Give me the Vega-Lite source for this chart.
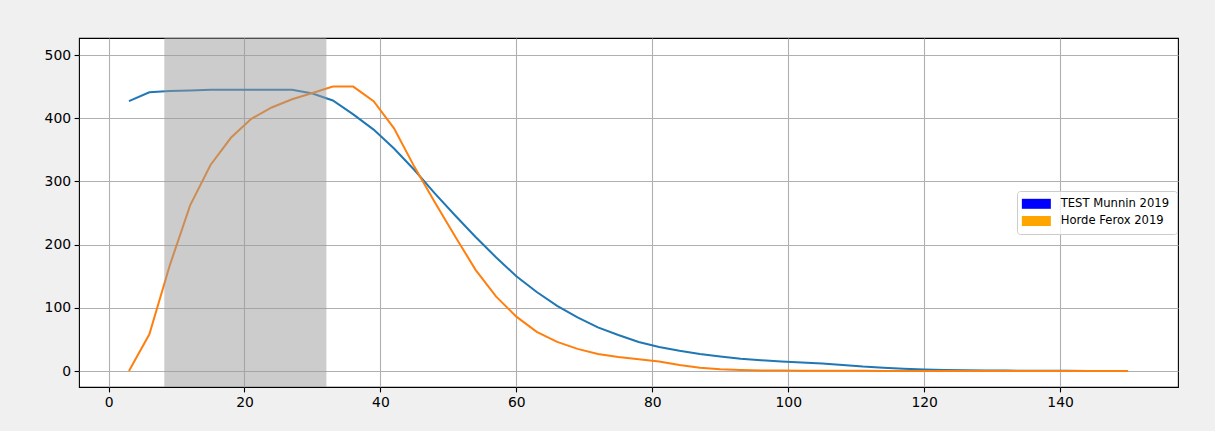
{
  "$schema": "https://vega.github.io/schema/vega-lite/v6.json",
  "width": 1099,
  "height": 349,
  "autosize": {"type": "none"},
  "padding": {"left": 79, "top": 38, "right": 37, "bottom": 44},
  "background": "#f0f0f0",
  "config": {
    "view": {"fill": "white", "stroke": "black", "strokeWidth": 1.1},
    "axis": {
      "grid": true, "gridColor": "#b0b0b0", "gridWidth": 1.1, "domain": false,
      "tickColor": "black", "tickSize": 4.9, "tickWidth": 1.1,
      "labelFont": "DejaVu Sans", "labelFontSize": 13.9, "labelColor": "black",
      "labelPadding": 3.5, "title": null
    }
  },
  "datasets": {
    "series": [
      {"x":3,"s":"TEST Munnin 2019","v":427},{"x":6,"s":"TEST Munnin 2019","v":441},{"x":9,"s":"TEST Munnin 2019","v":443},{"x":12,"s":"TEST Munnin 2019","v":444},{"x":15,"s":"TEST Munnin 2019","v":445},{"x":18,"s":"TEST Munnin 2019","v":445},{"x":21,"s":"TEST Munnin 2019","v":445},{"x":24,"s":"TEST Munnin 2019","v":445},{"x":27,"s":"TEST Munnin 2019","v":445},{"x":30,"s":"TEST Munnin 2019","v":439},{"x":33,"s":"TEST Munnin 2019","v":428},{"x":36,"s":"TEST Munnin 2019","v":406},{"x":39,"s":"TEST Munnin 2019","v":382},{"x":42,"s":"TEST Munnin 2019","v":352},{"x":45,"s":"TEST Munnin 2019","v":318},{"x":48,"s":"TEST Munnin 2019","v":281},{"x":51,"s":"TEST Munnin 2019","v":246},{"x":54,"s":"TEST Munnin 2019","v":212},{"x":57,"s":"TEST Munnin 2019","v":180},{"x":60,"s":"TEST Munnin 2019","v":150},{"x":63,"s":"TEST Munnin 2019","v":125},{"x":66,"s":"TEST Munnin 2019","v":103},{"x":69,"s":"TEST Munnin 2019","v":85},{"x":72,"s":"TEST Munnin 2019","v":69},{"x":75,"s":"TEST Munnin 2019","v":57},{"x":78,"s":"TEST Munnin 2019","v":46},{"x":81,"s":"TEST Munnin 2019","v":38},{"x":84,"s":"TEST Munnin 2019","v":32},{"x":87,"s":"TEST Munnin 2019","v":27},{"x":90,"s":"TEST Munnin 2019","v":23},{"x":93,"s":"TEST Munnin 2019","v":19.5},{"x":96,"s":"TEST Munnin 2019","v":17},{"x":99,"s":"TEST Munnin 2019","v":15},{"x":102,"s":"TEST Munnin 2019","v":13.5},{"x":105,"s":"TEST Munnin 2019","v":12},{"x":108,"s":"TEST Munnin 2019","v":9.5},{"x":111,"s":"TEST Munnin 2019","v":7},{"x":114,"s":"TEST Munnin 2019","v":5.3},{"x":117,"s":"TEST Munnin 2019","v":3.6},{"x":120,"s":"TEST Munnin 2019","v":2.4},{"x":123,"s":"TEST Munnin 2019","v":1.7},{"x":126,"s":"TEST Munnin 2019","v":1.2},{"x":129,"s":"TEST Munnin 2019","v":0.9},{"x":132,"s":"TEST Munnin 2019","v":0.7},{"x":135,"s":"TEST Munnin 2019","v":0.5},{"x":138,"s":"TEST Munnin 2019","v":0.4},{"x":141,"s":"TEST Munnin 2019","v":0.3},{"x":144,"s":"TEST Munnin 2019","v":0.2},{"x":147,"s":"TEST Munnin 2019","v":0.15},{"x":150,"s":"TEST Munnin 2019","v":0.1},
      {"x":3,"s":"Horde Ferox 2019","v":0},{"x":6,"s":"Horde Ferox 2019","v":58},{"x":9,"s":"Horde Ferox 2019","v":167},{"x":12,"s":"Horde Ferox 2019","v":262},{"x":15,"s":"Horde Ferox 2019","v":326},{"x":18,"s":"Horde Ferox 2019","v":369},{"x":21,"s":"Horde Ferox 2019","v":399},{"x":24,"s":"Horde Ferox 2019","v":417},{"x":27,"s":"Horde Ferox 2019","v":430},{"x":30,"s":"Horde Ferox 2019","v":440},{"x":33,"s":"Horde Ferox 2019","v":450},{"x":36,"s":"Horde Ferox 2019","v":450},{"x":39,"s":"Horde Ferox 2019","v":427},{"x":42,"s":"Horde Ferox 2019","v":384},{"x":45,"s":"Horde Ferox 2019","v":323},{"x":48,"s":"Horde Ferox 2019","v":267},{"x":51,"s":"Horde Ferox 2019","v":213},{"x":54,"s":"Horde Ferox 2019","v":160},{"x":57,"s":"Horde Ferox 2019","v":118},{"x":60,"s":"Horde Ferox 2019","v":86},{"x":63,"s":"Horde Ferox 2019","v":62},{"x":66,"s":"Horde Ferox 2019","v":46},{"x":69,"s":"Horde Ferox 2019","v":35},{"x":72,"s":"Horde Ferox 2019","v":27},{"x":75,"s":"Horde Ferox 2019","v":22},{"x":78,"s":"Horde Ferox 2019","v":18.5},{"x":81,"s":"Horde Ferox 2019","v":15},{"x":84,"s":"Horde Ferox 2019","v":9.5},{"x":87,"s":"Horde Ferox 2019","v":5.3},{"x":90,"s":"Horde Ferox 2019","v":2.6},{"x":93,"s":"Horde Ferox 2019","v":1.6},{"x":96,"s":"Horde Ferox 2019","v":1.0},{"x":99,"s":"Horde Ferox 2019","v":0.7},{"x":102,"s":"Horde Ferox 2019","v":0.5},{"x":105,"s":"Horde Ferox 2019","v":0.4},{"x":108,"s":"Horde Ferox 2019","v":0.3},{"x":111,"s":"Horde Ferox 2019","v":0.25},{"x":114,"s":"Horde Ferox 2019","v":0.2},{"x":117,"s":"Horde Ferox 2019","v":0.15},{"x":120,"s":"Horde Ferox 2019","v":0.1},{"x":123,"s":"Horde Ferox 2019","v":0.1},{"x":126,"s":"Horde Ferox 2019","v":0.1},{"x":129,"s":"Horde Ferox 2019","v":0.05},{"x":132,"s":"Horde Ferox 2019","v":0.05},{"x":135,"s":"Horde Ferox 2019","v":0.05},{"x":138,"s":"Horde Ferox 2019","v":0},{"x":141,"s":"Horde Ferox 2019","v":0},{"x":144,"s":"Horde Ferox 2019","v":0},{"x":147,"s":"Horde Ferox 2019","v":0},{"x":150,"s":"Horde Ferox 2019","v":0}
    ],
    "span": [{"start": 8.2, "end": 32.05}]
  },
  "layer": [
    {
      "data": {"name": "series"},
      "mark": {"type": "line", "strokeWidth": 2},
      "encoding": {
        "x": {"field": "x", "type": "quantitative", "scale": {"domain": [-4.35, 157.35], "nice": false, "zero": false}, "axis": {"values": [0,20,40,60,80,100,120,140]}},
        "y": {"field": "v", "type": "quantitative", "scale": {"domain": [-25.3, 526.9], "nice": false, "zero": false}, "axis": {"values": [0,100,200,300,400,500]}},
        "stroke": {
          "field": "s", "type": "nominal",
          "scale": {"domain": ["TEST Munnin 2019", "Horde Ferox 2019"], "range": ["#1f77b4", "#ff7f0e"]},
          "legend": {
            "orient": "none", "legendX": 938, "legendY": 153, "title": null,
            "padding": 7, "fillColor": "rgba(255,255,255,0.8)", "strokeColor": "#cccccc",
            "cornerRadius": 3, "symbolType": "M-2.9,-1L2.9,-1L2.9,1L-2.9,1Z", "symbolSize": 100,
            "symbolStrokeWidth": 0,
            "labelFont": "DejaVu Sans", "labelFontSize": 11.6, "labelColor": "black", "rowPadding": 4.2,
            "encode": {
              "symbols": {"update": {"x": {"value": 12.35}, "fill": {"signal": "datum.value === 'TEST Munnin 2019' ? '#0000ff' : '#ffa500'"}, "opacity": {"value": 1}}},
              "labels": {"update": {"x": {"value": 36.7}, "align": {"value": "left"}}}
            }
          }
        }
      }
    },
    {
      "data": {"name": "span"},
      "mark": {"type": "rect", "color": "#999999", "opacity": 0.5},
      "encoding": {
        "x": {"field": "start", "type": "quantitative"},
        "x2": {"field": "end"}
      }
    }
  ]
}
